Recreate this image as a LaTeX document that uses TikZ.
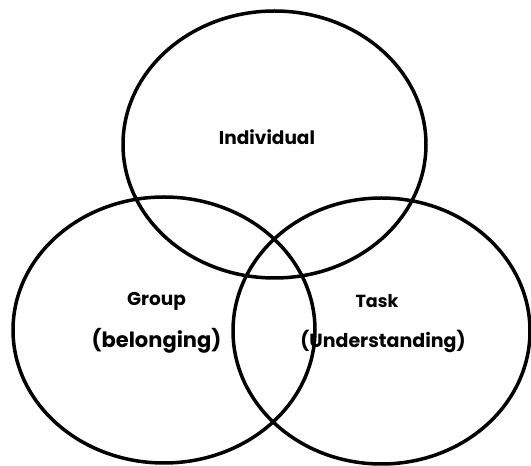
\documentclass[tikz,border=0pt]{standalone}
\usepackage{fontspec}
\setmainfont{Poppins}
\begin{document}
\begin{tikzpicture}[x=1pt,y=1pt,
  ring/.style={draw=black,line width=3.5pt},
  lbl/.style={inner sep=0pt, anchor=center}]
\useasboundingbox (0,0) rectangle (531,466);
\draw[ring] (274.5,321.5) ellipse [x radius=151.5, y radius=133.5];
\draw[ring] (164,136) ellipse [x radius=151, y radius=133];
\draw[ring] (381.5,135) ellipse [x radius=148.5, y radius=133];
\node[lbl, font=\bfseries\fontsize{18.5}{20}\selectfont] (ind) at (267,329) {Individual};
\node[lbl, font=\bfseries\fontsize{18.5}{20}\selectfont] (grp) at (156.5,165) {Group};
\node[lbl, font=\bfseries\fontsize{21}{24}\selectfont] (bel) at (156.5,125) {(belonging)};
\node[lbl, font=\bfseries\fontsize{17.5}{20}\selectfont] (tsk) at (377,165) {Task};
\node[lbl, font=\bfseries\fontsize{19}{22}\selectfont] (und) at (383,125) {(Understanding)};
\end{tikzpicture}
\end{document}
